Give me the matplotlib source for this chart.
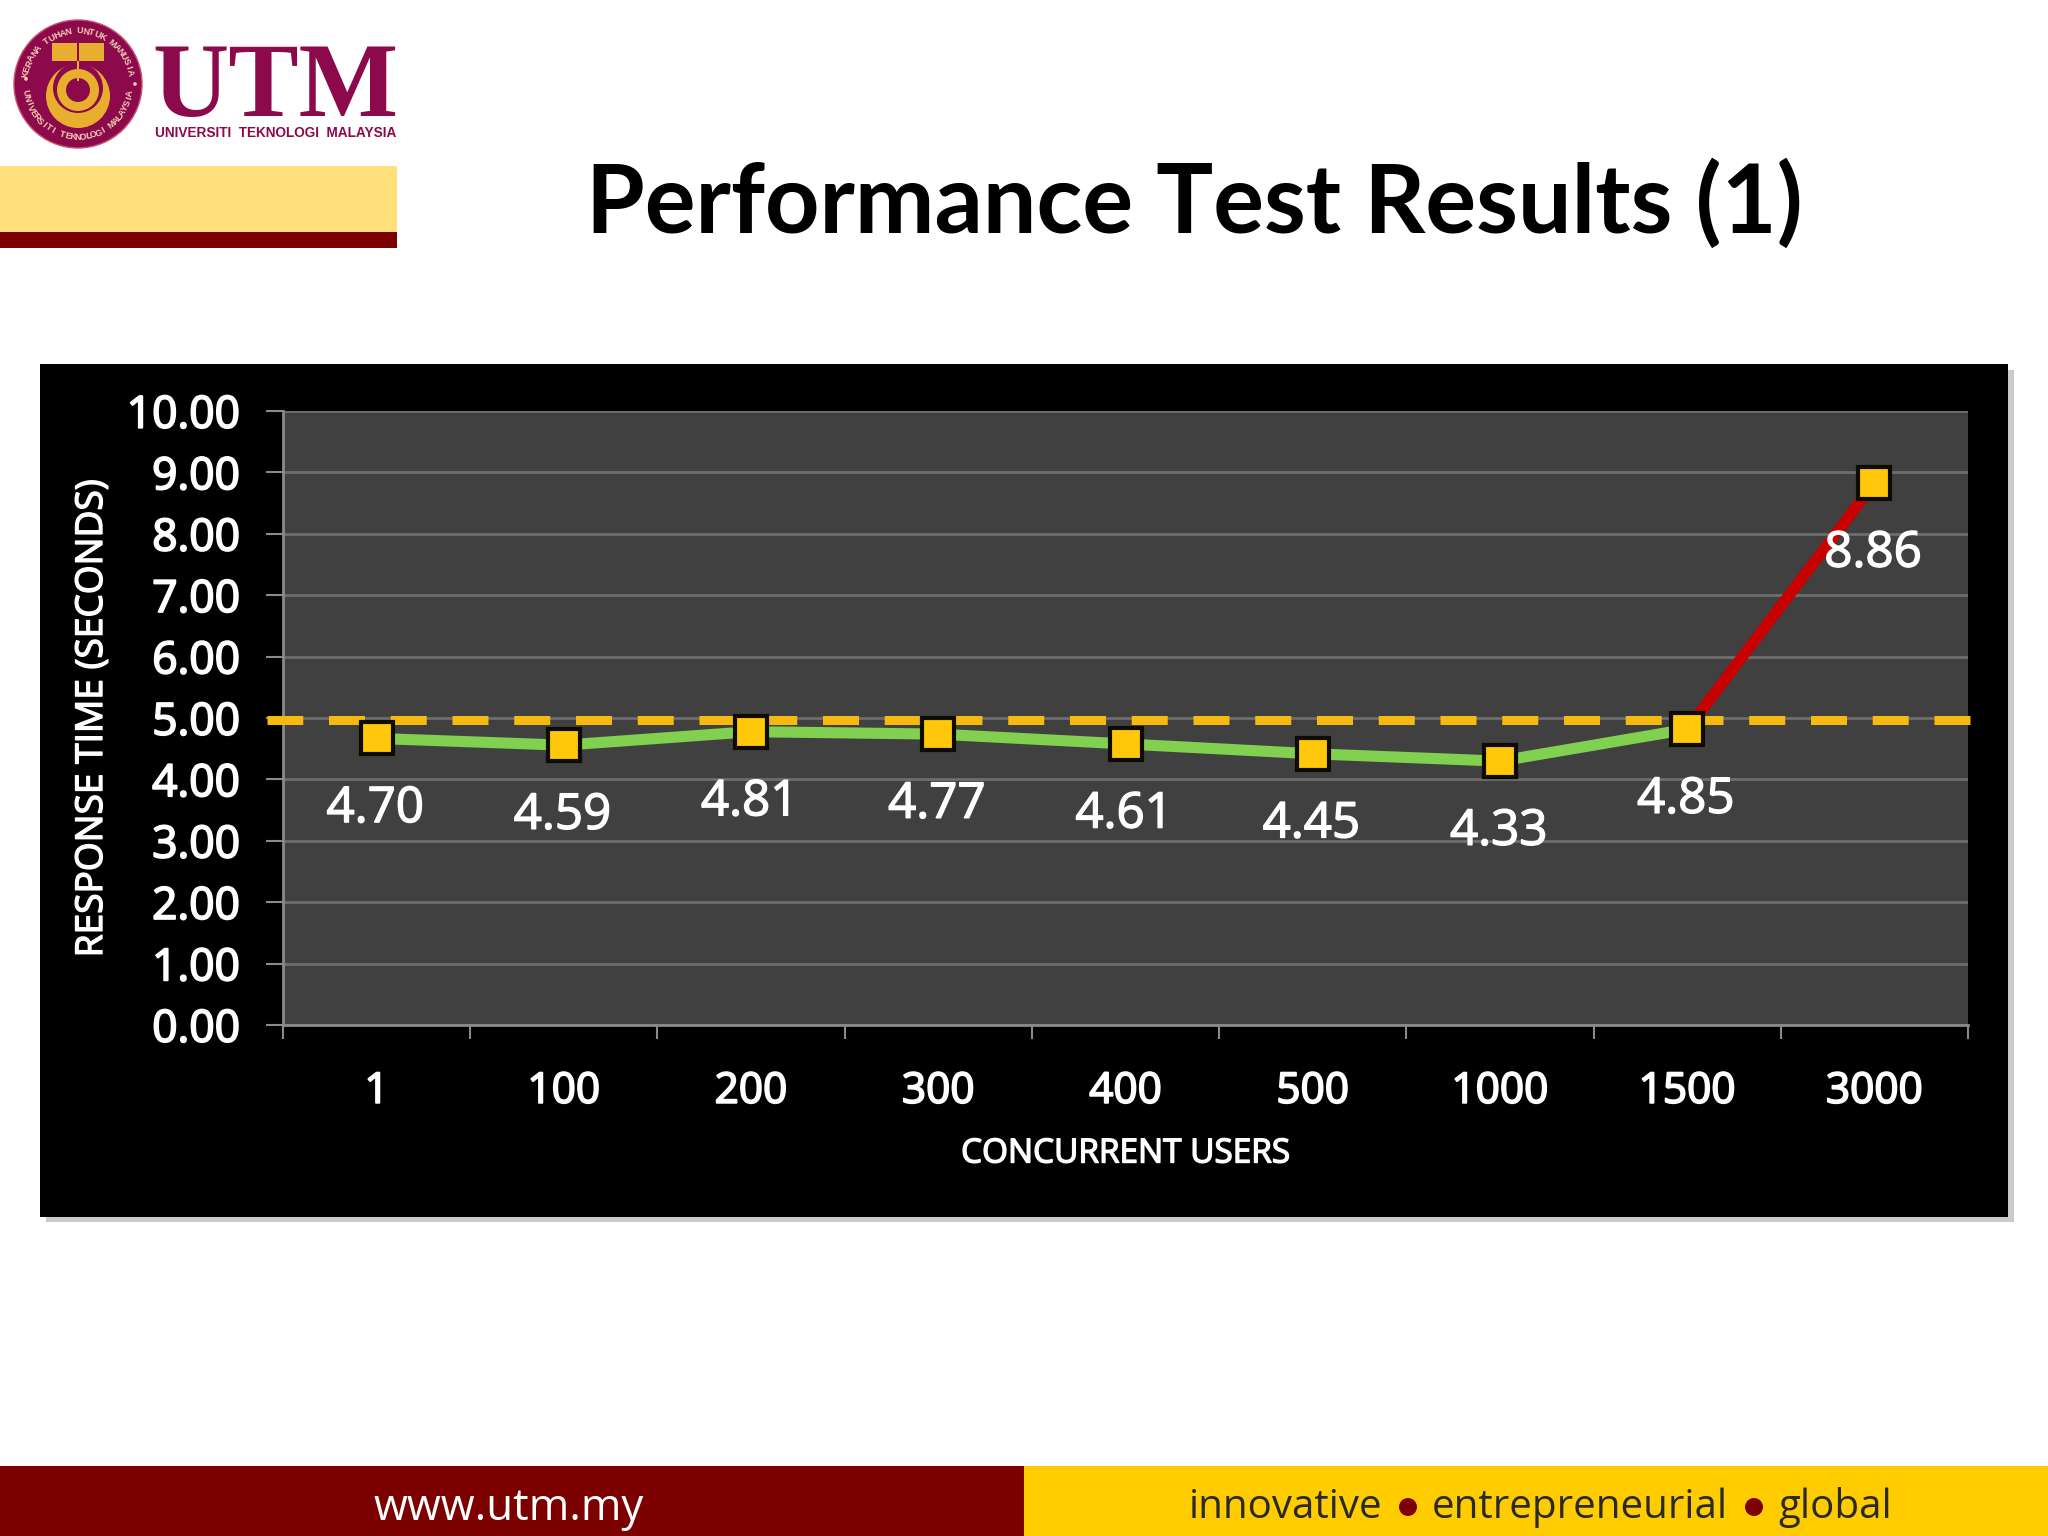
import numpy as np
import matplotlib
matplotlib.use("Agg")
import matplotlib.pyplot as plt
import matplotlib.patheffects as pe
from matplotlib.patches import Rectangle, Circle
from matplotlib.transforms import ScaledTranslation

categories = ["1", "100", "200", "300", "400", "500", "1000", "1500", "3000"]
response_time = [4.70, 4.59, 4.81, 4.77, 4.61, 4.45, 4.33, 4.85, 8.86]
y_ticks = [0, 1, 2, 3, 4, 5, 6, 7, 8, 9, 10]
threshold = 4.97

W, H = 2048, 1536
FONT = "Open Sans"
fig = plt.figure(figsize=(W / 100, H / 100), dpi=100, facecolor="white")

def heavy(color="white", w=1.0):
    return [pe.withStroke(linewidth=w, foreground=color)]

bg = fig.add_axes([0, 0, 1, 1], zorder=0)
bg.set_xlim(0, W); bg.set_ylim(H, 0); bg.axis("off")
MAROON = "#8C0A4B"; GOLD = "#E8AE2E"; DRED = "#7D0000"
bg.add_patch(Rectangle((0, 166), 397, 66, fc="#FFE07A", ec="none"))
bg.add_patch(Rectangle((0, 232), 397, 16, fc=DRED, ec="none"))
bg.add_patch(Rectangle((0, 1466), 1024, 70, fc=DRED, ec="none"))
bg.add_patch(Rectangle((1024, 1466), 1024, 70, fc="#FFCC00", ec="none"))
bg.add_patch(Rectangle((46, 370), 1968, 852, fc="#C9C9CE", ec="none"))
bg.add_patch(Rectangle((40, 364), 1968, 853, fc="#000000", ec="none"))

cx, cy, R = 78, 84, 64
bg.add_patch(Circle((cx, cy), R, fc=MAROON, ec="#C8506A", lw=1))
bg.add_patch(Circle((78, 96), 32, fc=GOLD, ec="none"))
bg.add_patch(Circle((78, 88), 25, fc=MAROON, ec="none"))
bg.add_patch(Circle((78, 90), 21, fc=GOLD, ec="none"))
bg.add_patch(Circle((78, 90), 12, fc=MAROON, ec="none"))
bg.add_patch(Rectangle((52, 43), 25, 18, fc=GOLD, ec="none"))
bg.add_patch(Rectangle((79, 43), 25, 18, fc=GOLD, ec="none"))
bg.add_patch(Rectangle((77, 61), 2, 20, fc=GOLD, ec="none"))

def ring_text(s, a0, a1, r, flip=False):
    for ch, a in zip(s, np.linspace(a0, a1, len(s))):
        x = cx + r * np.cos(np.radians(a)); y = cy - r * np.sin(np.radians(a))
        rot = a - 90 if not flip else a + 90
        bg.text(x, y, ch, ha="center", va="center", rotation=rot, rotation_mode="anchor",
                color="#F6CDB0", fontsize=6.5, fontweight="bold", family="Liberation Sans")

ring_text("KERANA TUHAN UNTUK MANUSIA", 170, 12, 53)
ring_text("UNIVERSITI TEKNOLOGI MALAYSIA", 190, 350, 53, flip=True)
bg.add_patch(Circle((cx - 52, cy - 5), 1.8, fc="#F6CDB0", ec="none"))
bg.add_patch(Circle((cx + 57, cy + 0), 1.8, fc="#F6CDB0", ec="none"))

bg.text(275.5, 116, "UTM", ha="center", va="baseline", color=MAROON, fontsize=76,
        family="Liberation Serif", fontweight="bold")
bg.text(275.5, 133, "UNIVERSITI  TEKNOLOGI  MALAYSIA", ha="center", va="center",
        color=MAROON, fontsize=9.8, family="Liberation Sans", fontweight="bold")

bg.text(1194, 204, "Performance Test Results (1)", ha="center", va="center", color="#000000",
        fontsize=68.5, family="Lato", fontweight="bold")
bg.text(509, 1509, "www.utm.my", ha="center", va="center", color="white", fontsize=31.5, family=FONT)
foot_y = 1508
for label, xc in [("innovative", 1286), ("entrepreneurial", 1580), ("global", 1835)]:
    bg.text(xc, foot_y, label, ha="center", va="center", color="#2A2A2A", fontsize=29, family=FONT)
for xc in (1408, 1754):
    bg.add_patch(Circle((xc, foot_y - 1), 9, fc=DRED, ec="none"))

L, R_, T, B = 283, 1968, 411, 1025
ax = fig.add_axes([L / W, 1 - B / H, (R_ - L) / W, (B - T) / H], zorder=2, facecolor="#404040")
x = np.arange(len(categories))
GRID = "#6E6E6E"
ax.set_xlim(-0.5, len(categories) - 0.5)
ax.set_ylim(y_ticks[0], y_ticks[-1])
ax.set_yticks(y_ticks)
ax.set_yticklabels([f"{v:.2f}" for v in y_ticks])
ax.set_xticks(x)
ax.set_xticklabels(categories)
ax.set_xticks(np.arange(-0.5, len(categories)), minor=True)
ax.grid(axis="y", color=GRID, lw=2.0, zorder=1)
ax.grid(axis="x", visible=False)
for s in ("top", "right"):
    ax.spines[s].set_visible(False)
for s in ("left", "bottom"):
    ax.spines[s].set_color("#8A8A8A"); ax.spines[s].set_linewidth(2)
ax.tick_params(axis="y", which="major", length=12, width=1.5, color="#8A8A8A", pad=19,
               labelsize=32, labelcolor="white")
ax.tick_params(axis="x", which="major", length=0, pad=33, labelsize=30.5, labelcolor="white")
ax.tick_params(axis="x", which="minor", length=10, width=1.5, color="#8A8A8A")
for t in ax.get_xticklabels() + ax.get_yticklabels():
    t.set_family(FONT); t.set_path_effects(heavy(w=1.3))

ax.set_ylabel("RESPONSE TIME (SECONDS)", color="white", fontsize=26.7, family=FONT, va="center",
              path_effects=heavy(w=1.0))
ax.yaxis.set_label_coords((93 - L) / (R_ - L), 0.5)
ax.set_xlabel("CONCURRENT USERS", color="white", fontsize=24, family=FONT, va="center",
              path_effects=heavy(w=1.0))
ax.xaxis.set_label_coords(0.5, (B - 1154) / (B - T))

shift = ax.transData + ScaledTranslation(0, -2 / 100, fig.dpi_scale_trans)
ax.plot([8.51, -0.585], [threshold, threshold], color="#F5B90F", lw=6.5, clip_on=False, zorder=3,
        dashes=(3.99, 2.85), dash_capstyle="butt")
ax.plot(x[:-1], response_time[:-1], color="#82D050", lw=8, zorder=4, transform=shift)
ax.plot(x[-2:], response_time[-2:], color="#C80000", lw=8, zorder=4, transform=shift)
ax.plot(x, response_time, ls="none", marker="s", ms=23, mfc="#FFC80A", mec="#0E0B00", mew=3,
        zorder=5, transform=shift)

for xi, v in zip(x, response_time):
    ax.annotate(f"{v:.2f}", (xi, v), xytext=(-1, -52.5), textcoords="offset points",
                ha="center", va="center", color="white", fontsize=35.5, family=FONT,
                zorder=6, path_effects=[pe.withStroke(linewidth=1.0, foreground="white")])

fig.savefig("out.png", dpi=100, facecolor="white")
